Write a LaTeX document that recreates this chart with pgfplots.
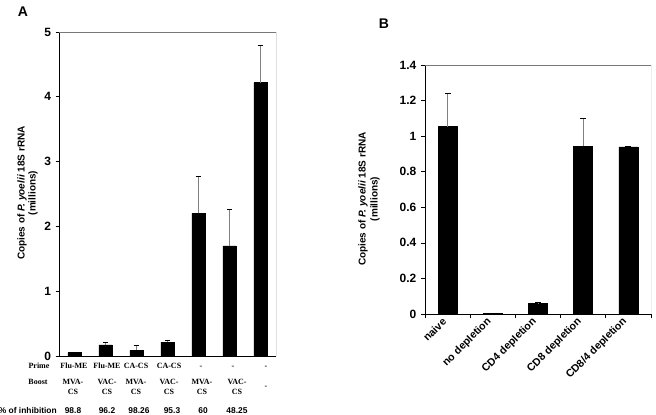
\documentclass[border=0pt]{standalone}
\usepackage{fontspec}
\setmainfont{Liberation Sans}
\newfontfamily\serifb{Liberation Serif}
\usepackage{pgfplots}
\pgfplotsset{compat=1.18}
\definecolor{errgray}{RGB}{128,128,128}
\definecolor{boxgray}{RGB}{120,120,120}

\pgfplotsset{
  panel/.style={
    scale only axis,
    anchor=south west,
    axis lines*=left,
    axis line style={-, black, line width=0.6pt},
    tick align=outside,
    tick style={black, line width=0.5pt},
    major tick length=2.5pt,
    ybar,
    ymin=0,
    /pgf/number format/assume math mode=true,
    yticklabel style={font=\bfseries\fontsize{9}{10}\selectfont},
    ylabel style={anchor=center, align=center,
      font=\bfseries\fontsize{7.5}{8.4}\selectfont},
    error bars/y dir=plus,
    error bars/y explicit,
    error bars/error bar style={errgray, line width=0.6pt},
    error bars/error mark options={black, line width=0.6pt, mark size=2.2pt, rotate=90},
  },
}

\begin{document}
\begin{tikzpicture}
\path[use as bounding box] (0,0) rectangle (492pt,310.5pt);

% ---------- panel A ----------
\begin{axis}[panel,
  at={(44.25pt,43.5pt)},
  width=162.75pt, height=243pt,
  xmin=0.5, xmax=7.5, ymax=5,
  bar width=10pt,
  xtick=\empty,
  ytick={0,1,2,3,4,5},
  ylabel={Copies of \textit{P. yoelii} 18S rRNA\\(millions)},
  ylabel style={at={(axis description cs:-0.145,0.503)}},
]
\addplot[fill=black, draw=black] coordinates {
  (1,0.05) +- (0,0)
  (2,0.17) +- (0,0.04)
  (3,0.09) +- (0,0.075)
  (4,0.215) +- (0,0.03)
  (5,2.20) +- (0,0.57)
  (6,1.70) +- (0,0.57)
  (7,4.22) +- (0,0.57)
};
\draw[boxgray, line width=0.6pt] (rel axis cs:0,1) -- (rel axis cs:1,1);
\draw[black, line width=0.6pt] (rel axis cs:1,1) -- (rel axis cs:1,0);
\end{axis}

% table of treatments under panel A
\begin{scope}[every node/.style={inner sep=0pt, anchor=base}]
\node[font=\serifb\bfseries\fontsize{6}{7}\selectfont] at (29.25pt,34.5pt) {Prime};
\node[font=\serifb\bfseries\fontsize{6}{7}\selectfont] at (28.5pt,22.5pt) {Boost};
\node[anchor=base east, font=\bfseries\fontsize{6.3}{7}\selectfont] at (42.75pt,0.75pt) {\% of inhibition};
\foreach \x/\t in {74/Flu-ME, 107/Flu-ME, 136/CA-CS, 169/CA-CS, 201/-, 233/-, 266/-}
  \node[font=\serifb\bfseries\fontsize{6}{7}\selectfont] at (\x*0.75pt,34.5pt) {\t};
\foreach \x/\t in {73/MVA-, 107/VAC-, 136/MVA-, 169/VAC-, 202/MVA-, 237/VAC-}
  \node[font=\serifb\bfseries\fontsize{6}{7}\selectfont] at (\x*0.75pt,22.5pt) {\t};
\foreach \x in {73, 107, 136, 169, 202, 237}
  \node[font=\serifb\bfseries\fontsize{6}{7}\selectfont] at (\x*0.75pt,15pt) {CS};
\node[font=\serifb\bfseries\fontsize{6}{7}\selectfont] at (266*0.75pt,19.5pt) {-};
\foreach \x/\t in {73/98.8, 107/96.2, 139/98.26, 172/95.3, 203/60, 237/48.25}
  \node[font=\bfseries\fontsize{6.3}{7}\selectfont] at (\x*0.75pt,0.75pt) {\t};
\end{scope}

% ---------- panel B ----------
\begin{axis}[panel,
  at={(318.75pt,75pt)},
  width=169.5pt, height=186.75pt,
  xmin=0.5, xmax=5.5, ymax=1.4,
  bar width=14.25pt,
  xtick={0.5,1.5,2.5,3.5,4.5,5.5},
  xticklabels={},
  major tick length=3pt,
  extra x ticks={1,2,3,4,5},
  extra x tick labels={naive,no depletion,CD4 depletion,CD8 depletion,CD8/4 depletion},
  extra x tick style={major tick length=0pt},
  xticklabel shift=2pt,
  xticklabel style={rotate=45, anchor=east, font=\bfseries\fontsize{8}{9}\selectfont},
  ytick={0,0.2,0.4,0.6,0.8,1,1.2,1.4},
  yticklabel style={/pgf/number format/fixed, /pgf/number format/precision=1},
  ylabel={Copies of \textit{P. yoelii} 18S rRNA\\(millions)},
  ylabel style={at={(axis description cs:-0.248,0.462)},
    font=\bfseries\fontsize{7.5}{9}\selectfont},
]
\addplot[fill=black, draw=black] coordinates {
  (1,1.053) +- (0,0.185)
  (2,0.002) +- (0,0)
  (3,0.060) +- (0,0.003)
  (4,0.944) +- (0,0.154)
  (5,0.940) +- (0,0.003)
};
\draw[boxgray, line width=0.6pt] (rel axis cs:0,1) -- (rel axis cs:1,1) -- (rel axis cs:1,0);
\end{axis}

\node[font=\bfseries\fontsize{10.5}{12}\selectfont] at (17.25pt,301.5pt) {A};
\node[font=\bfseries\fontsize{10.5}{12}\selectfont] at (288pt,292.5pt) {B};
\end{tikzpicture}
\end{document}
